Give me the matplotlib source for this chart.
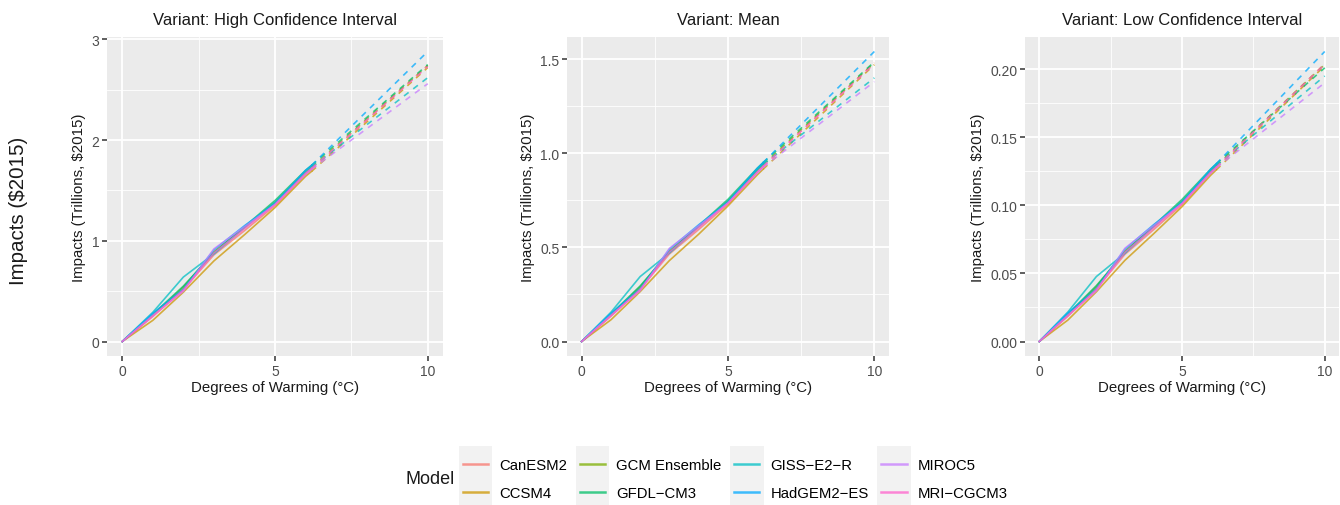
"""Impacts by degree of warming for each GCM, three variants."""

import matplotlib

matplotlib.use("Agg")
import matplotlib.pyplot as plt
from matplotlib.legend_handler import HandlerLine2D
from matplotlib.lines import Line2D
from matplotlib.patches import Rectangle
from matplotlib.ticker import MultipleLocator

plt.rcParams["font.family"] = ["Liberation Sans", "DejaVu Sans"]

models = [
    "CanESM2", "CCSM4", "GCM Ensemble", "GFDL−CM3",
    "GISS−E2−R", "HadGEM2−ES", "MIROC5", "MRI−CGCM3",
]
colors = [
    "#F8766D", "#CD9600", "#7CAE00", "#00BE67",
    "#00BFC4", "#00A9FF", "#C77CFF", "#FF61CC",
]

# solid part (observed range) and dashed extrapolation to 10 degrees
degrees = [0, 1, 2, 3, 4, 5, 6, 6.2]
ext_degrees = [6.2, 10]

high_values = {
    "CanESM2": [0, 0.25, 0.52, 0.86, 1.10, 1.35, 1.66, 1.71],
    "CCSM4": [0, 0.21, 0.49, 0.80, 1.06, 1.33, 1.64, 1.69],
    "GCM Ensemble": [0, 0.26, 0.54, 0.89, 1.13, 1.38, 1.68, 1.73],
    "GFDL−CM3": [0, 0.27, 0.55, 0.88, 1.14, 1.40, 1.70, 1.75],
    "GISS−E2−R": [0, 0.29, 0.64, 0.87, 1.13, 1.38, 1.68, 1.73],
    "HadGEM2−ES": [0, 0.28, 0.52, 0.91, 1.15, 1.37, 1.70, 1.75],
    "MIROC5": [0, 0.26, 0.50, 0.92, 1.14, 1.36, 1.66, 1.71],
    "MRI−CGCM3": [0, 0.25, 0.51, 0.88, 1.12, 1.36, 1.67, 1.72],
}
high_end = [2.74, 2.72, 2.74, 2.75, 2.62, 2.88, 2.56, 2.73]

mean_values = {
    "CanESM2": [0, 0.135, 0.28, 0.465, 0.595, 0.73, 0.90, 0.93],
    "CCSM4": [0, 0.115, 0.265, 0.43, 0.57, 0.72, 0.885, 0.915],
    "GCM Ensemble": [0, 0.14, 0.29, 0.48, 0.61, 0.745, 0.91, 0.94],
    "GFDL−CM3": [0, 0.145, 0.295, 0.475, 0.615, 0.755, 0.92, 0.95],
    "GISS−E2−R": [0, 0.155, 0.345, 0.47, 0.61, 0.745, 0.91, 0.94],
    "HadGEM2−ES": [0, 0.15, 0.28, 0.49, 0.62, 0.74, 0.92, 0.95],
    "MIROC5": [0, 0.14, 0.27, 0.495, 0.615, 0.735, 0.895, 0.925],
    "MRI−CGCM3": [0, 0.135, 0.275, 0.475, 0.605, 0.735, 0.90, 0.93],
}
mean_end = [1.48, 1.47, 1.48, 1.485, 1.40, 1.54, 1.38, 1.475]

low_values = {
    "CanESM2": [0, 0.0186, 0.0387, 0.064, 0.082, 0.1005, 0.1235, 0.1275],
    "CCSM4": [0, 0.0157, 0.0365, 0.0596, 0.079, 0.099, 0.122, 0.126],
    "GCM Ensemble": [0, 0.0194, 0.0402, 0.0663, 0.0842, 0.1028, 0.125, 0.129],
    "GFDL−CM3": [0, 0.0201, 0.041, 0.0655, 0.085, 0.1043, 0.1265, 0.1305],
    "GISS−E2−R": [0, 0.0216, 0.0477, 0.0648, 0.0842, 0.1028, 0.125, 0.129],
    "HadGEM2−ES": [0, 0.0209, 0.0387, 0.0678, 0.0857, 0.102, 0.1265, 0.1305],
    "MIROC5": [0, 0.0194, 0.0372, 0.0685, 0.085, 0.1013, 0.1235, 0.1275],
    "MRI−CGCM3": [0, 0.0186, 0.038, 0.0655, 0.0834, 0.1013, 0.1242, 0.128],
}
low_end = [0.204, 0.2025, 0.2035, 0.201, 0.195, 0.213, 0.190, 0.2035]

variants = [
    ("Variant: High Confidence Interval", high_values, high_end, 1.0),
    ("Variant: Mean", mean_values, mean_end, 0.5),
    ("Variant: Low Confidence Interval", low_values, low_end, 0.05),
]

W, H = 1340, 506
# axes boxes in pixels: left, right, top, bottom
boxes = [(107, 443, 38, 357), (567, 889, 38, 357), (1025, 1339, 38, 357)]

BG = "#EBEBEB"
TXT = "#4D4D4D"


class KeyHandler(HandlerLine2D):
    """Legend key with a light grey box behind the line, like ggplot."""

    def create_artists(self, legend, orig_handle, xdescent, ydescent,
                       width, height, fontsize, trans):
        arts = super().create_artists(legend, orig_handle, xdescent, ydescent,
                                      width, height, fontsize, trans)
        rect = Rectangle((-xdescent - 3, -ydescent - 9), width + 6, height + 18,
                         facecolor="#F2F2F2", edgecolor="none", transform=trans)
        return [rect] + arts


fig = plt.figure(figsize=(W / 100, H / 100), dpi=100)

for (title, values, end, step), (l, r, t, b) in zip(variants, boxes):
    ax = fig.add_axes([l / W, 1 - b / H, (r - l) / W, (b - t) / H])
    ax.set_facecolor(BG)
    for name, color, yend in zip(models, colors, end):
        ys = values[name]
        ax.plot(degrees, ys, color=color, lw=1.2, alpha=0.75)
        ax.plot(ext_degrees, [ys[-1], yend], color=color, lw=1.2, alpha=0.75,
                dashes=(3.5, 3.5))

    ymax = max(end)
    ax.set_xlim(-0.5, 10.5)
    ax.set_ylim(-0.05 * ymax, ymax * 1.05)
    ax.xaxis.set_major_locator(MultipleLocator(5))
    ax.xaxis.set_minor_locator(MultipleLocator(2.5))
    ax.yaxis.set_major_locator(MultipleLocator(step))
    ax.yaxis.set_minor_locator(MultipleLocator(step / 2))
    if step == 1.0:
        ax.yaxis.set_major_formatter(lambda v, p: f"{v:.0f}")
    elif step == 0.5:
        ax.yaxis.set_major_formatter(lambda v, p: f"{v:.1f}")
    else:
        ax.yaxis.set_major_formatter(lambda v, p: f"{v:.2f}")

    ax.grid(which="major", color="white", lw=1.3)
    ax.grid(which="minor", color="white", lw=0.6)
    ax.set_axisbelow(True)
    for s in ax.spines.values():
        s.set_visible(False)
    ax.tick_params(which="major", length=3.5, width=1.1, color="#333333",
                   labelsize=10, labelcolor=TXT, pad=2)
    ax.tick_params(which="minor", length=0)

    ax.set_title(title, fontsize=12, color="#1A1A1A", pad=9)
    ax.set_xlabel("Degrees of Warming (°C)", fontsize=10.8, color="#1A1A1A",
                  labelpad=2)
    ax.set_ylabel("Impacts (Trillions, $2015)", fontsize=10.8, color="#1A1A1A",
                  labelpad=4)

fig.text(19 / W, 1 - 211 / H, "Impacts ($2015)", rotation=90, fontsize=14.8,
         color="#1A1A1A", ha="center", va="center")

handles = [Line2D([], [], color=c, lw=1.8, alpha=0.75) for c in colors]
leg = fig.legend(
    handles, models, ncol=4, loc="center left",
    bbox_to_anchor=(463 / W, 1 - 480 / H), frameon=False,
    fontsize=10.7, handlelength=1.7, handletextpad=0.75, columnspacing=0.85,
    labelspacing=0.95, borderpad=0, borderaxespad=0,
    handler_map={Line2D: KeyHandler()},
)
fig.text(455 / W, 1 - 480 / H, "Model", fontsize=13, color="#1A1A1A",
         ha="right", va="center")

fig.savefig("out.png", dpi=100)
